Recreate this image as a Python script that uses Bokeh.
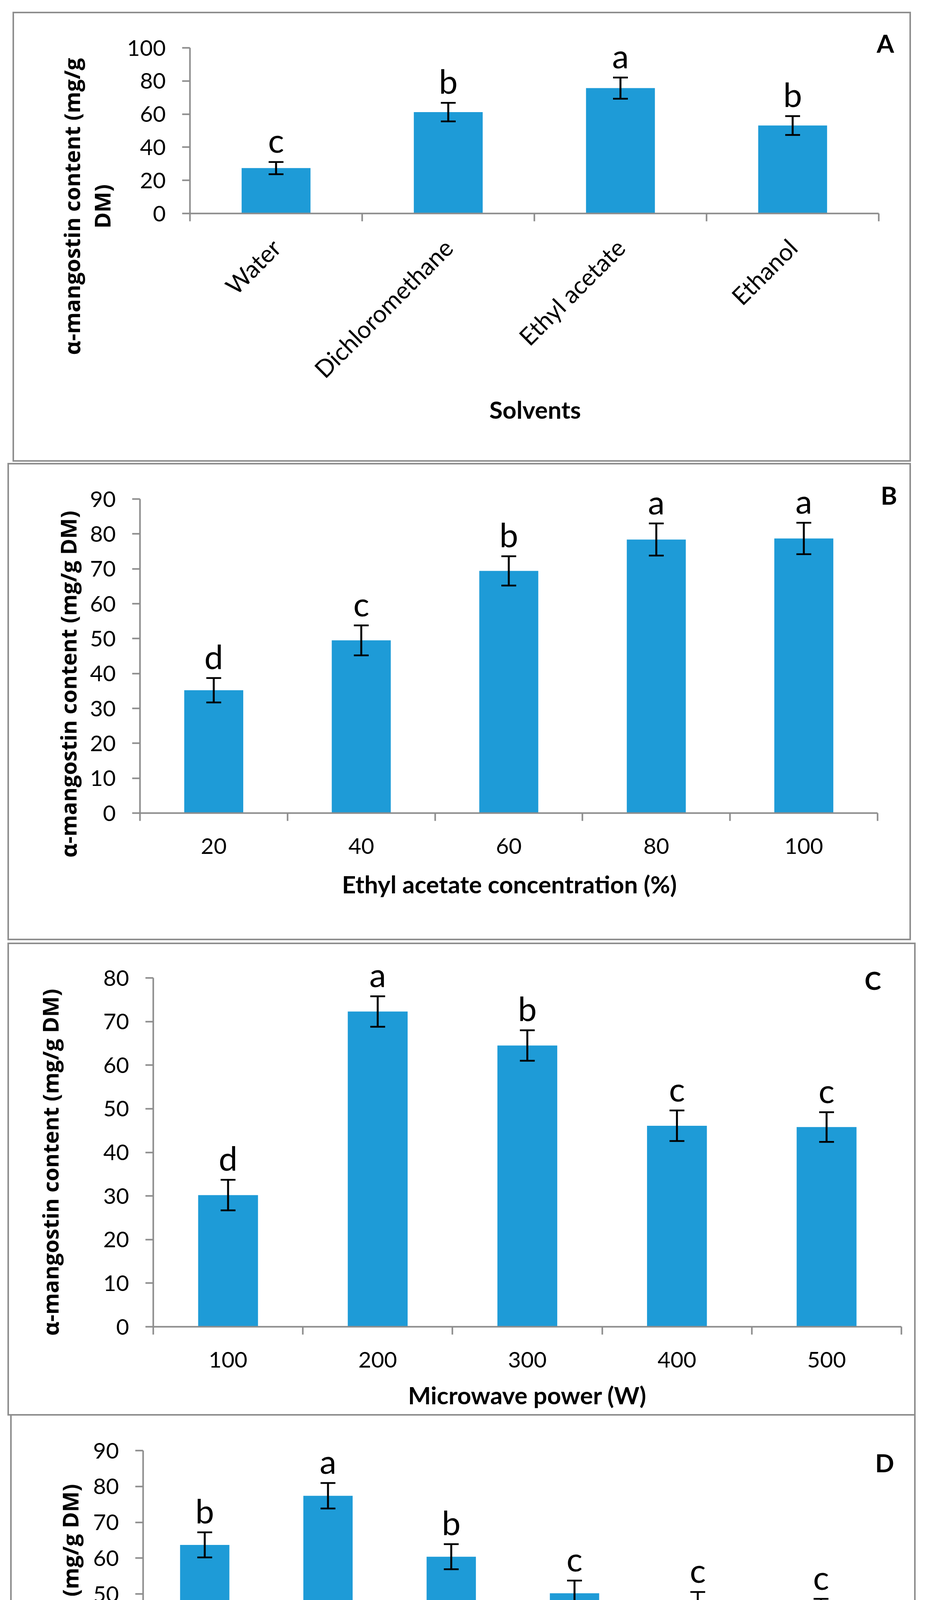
import math
from bokeh.plotting import figure
from bokeh.models import Range1d, FixedTicker, Whisker, TeeHead, ColumnDataSource
from bokeh.core.properties import value
from bokeh.layouts import column
from bokeh.embed import file_html
from bokeh.resources import INLINE

# ---------------- data ----------------
a_cats = ["Water", "Dichloromethane", "Ethyl acetate", "Ethanol"]
a_vals = [27.4, 61.2, 75.7, 53.1]
a_err = [3.7, 5.6, 6.4, 5.7]
a_letters = ["c", "b", "a", "b"]

b_cats = ["20", "40", "60", "80", "100"]
b_vals = [35.2, 49.5, 69.4, 78.4, 78.7]
b_err = [3.5, 4.3, 4.2, 4.6, 4.5]
b_letters = ["d", "c", "b", "a", "a"]

c_cats = ["100", "200", "300", "400", "500"]
c_vals = [30.2, 72.3, 64.5, 46.1, 45.8]
c_err = [3.5, 3.5, 3.5, 3.5, 3.4]
c_letters = ["d", "a", "b", "c", "c"]

d_cats = ["2", "4", "6", "8", "10", "12"]
d_vals = [63.7, 77.4, 60.4, 50.2, 47.0, 45.1]
d_err = [3.5, 3.55, 3.5, 3.55, 3.55, 3.55]
d_letters = ["b", "a", "b", "c", "c", "c"]

a_ymax, a_ystep = 100, 20
b_ymax, b_ystep = 90, 10
c_ymax, c_ystep = 80, 10
d_ymax, d_ystep = 90, 10

a_xtitle = "Solvents"
b_xtitle = "Ethyl acetate concentration (%)"
c_xtitle = "Microwave power (W)"
d_xtitle = "Extraction time (min)"

a_ytitle = ["α-mangostin content (mg/g", "DM)"]
b_ytitle = ["α-mangostin content (mg/g DM)"]
c_ytitle = ["α-mangostin content (mg/g DM)"]
d_ytitle = ["α-mangostin (mg/g DM)"]

# ---------------- styling ----------------
BAR = "#1E9BD7"
AX = "#8c8c8c"
TICK_FONT = "Lato"
TITLE_FONT = "Open Sans"
BW = 4            # css border width
LET_SIZE = 86
TAG_SIZE = 64
XT_SIZE = 62
YT_SIZE = 56
SHIFT = 0.38      # renderer puts the baseline ~0.38em below the requested point


def make_panel(cats, vals, errs, letters, ymax, ystep, box, axes, margin,
               xtitle, xtitle_pos, ytitles, ytitle_bx, ytitle_cy, tag, tag_pos,
               rotate=False):
    L, T, R, B = box
    fl, fr, ft, fb = axes          # page px: y-axis x, x-axis right end, top tick y, x-axis y
    cx0, cy0 = L + BW, T + BW      # canvas origin on page
    W, H = R - L - 2 * BW, B - T - 2 * BW
    n = len(cats)
    ppx = (fr - fl) / n
    ppu = (fb - ft) / ymax

    def dx(px):
        return (px - fl) / ppx

    def dy(py):
        return (fb - py) / ppu

    p = figure(width=W, height=H,
               x_range=Range1d(dx(cx0), dx(cx0 + W)),
               y_range=Range1d(dy(cy0 + H), dy(cy0)),
               output_backend="svg", toolbar_location=None,
               background_fill_color="white", border_fill_color="white")
    p.min_border = 0
    p.min_border_left = 0
    p.min_border_right = 0
    p.min_border_top = 0
    p.min_border_bottom = 0
    p.frame_align = False
    p.outline_line_color = None
    p.xgrid.visible = False
    p.ygrid.visible = False
    p.margin = margin
    p.styles = {"border": "%dpx solid #8e8e8e" % BW}

    xs = [i + 0.5 for i in range(n)]
    upper = [v + e for v, e in zip(vals, errs)]
    lower = [v - e for v, e in zip(vals, errs)]
    lab_y = [u + (24 + SHIFT * LET_SIZE) / ppu for u in upper]
    src = ColumnDataSource(dict(x=xs, top=vals, upper=upper, lower=lower,
                                letter=letters, lab_y=lab_y))

    p.vbar(x="x", top="top", width=0.4, bottom=0, source=src,
           fill_color=BAR, line_color=None)

    wh = Whisker(source=src, base="x", upper="upper", lower="lower",
                 line_color="black", line_width=5,
                 upper_head=TeeHead(size=38, line_color="black", line_width=4.5),
                 lower_head=TeeHead(size=38, line_color="black", line_width=4.5))
    wh.level = "overlay"
    p.add_layout(wh)

    p.text(x="x", y="lab_y", text="letter", source=src, text_align="center",
           text_baseline="alphabetic", text_font=value(TICK_FONT),
           text_font_size="%dpx" % LET_SIZE, text_color="black")

    # panel tag
    p.text(x=[dx(tag_pos[0])], y=[dy(tag_pos[1] - SHIFT * TAG_SIZE)], text=[tag],
           text_align="center", text_baseline="alphabetic", text_font=value(TICK_FONT),
           text_font_style="bold", text_font_size="%dpx" % TAG_SIZE, text_color="black")

    # x title
    p.text(x=[dx(xtitle_pos[0])], y=[dy(xtitle_pos[1] - SHIFT * XT_SIZE)], text=[xtitle],
           text_align="center", text_baseline="alphabetic", text_font=value(TICK_FONT),
           text_font_style="bold", text_font_size="%dpx" % XT_SIZE, text_color="black")

    # y title lines (rotated)
    for txt, bx in zip(ytitles, ytitle_bx):
        p.text(x=[dx(bx - SHIFT * YT_SIZE)], y=[dy(ytitle_cy)], text=[txt], angle=math.pi / 2,
               text_align="center", text_baseline="alphabetic", text_font=value(TITLE_FONT),
               text_font_style="bold", text_font_size="%dpx" % YT_SIZE, text_color="black")

    # axes drawn at the data origin
    xa = p.xaxis[0]
    xa.fixed_location = 0
    xa.bounds = (0, n)
    xa.ticker = FixedTicker(ticks=xs, minor_ticks=list(range(n + 1)))
    xa.major_label_overrides = {x: c for x, c in zip(xs, cats)}
    xa.axis_line_color = AX
    xa.axis_line_width = 4
    xa.major_tick_line_color = None
    xa.major_tick_out = 20
    xa.major_tick_in = 0
    xa.minor_tick_line_color = AX
    xa.minor_tick_line_width = 4
    xa.minor_tick_out = 20
    xa.minor_tick_in = 0
    xa.major_label_text_font = TICK_FONT
    xa.major_label_text_font_size = "62px" if rotate else "57px"
    xa.major_label_text_color = "black"
    xa.major_label_standoff = 56 if rotate else 44
    if rotate:
        xa.major_label_orientation = math.pi / 4

    ya = p.yaxis[0]
    ya.fixed_location = 0
    ya.bounds = (0, ymax)
    ya.ticker = FixedTicker(ticks=list(range(0, ymax + 1, ystep)))
    ya.axis_line_color = AX
    ya.axis_line_width = 4
    ya.major_tick_line_color = AX
    ya.major_tick_line_width = 4
    ya.major_tick_out = 20
    ya.major_tick_in = 0
    ya.minor_tick_line_color = None
    ya.major_label_text_font = TICK_FONT
    ya.major_label_text_font_size = "57px"
    ya.major_label_text_color = "black"
    ya.major_label_standoff = 42
    return p


pA = make_panel(a_cats, a_vals, a_err, a_letters, a_ymax, a_ystep,
                box=(40, 38, 2349, 1198), axes=(494, 2258, 130, 554), margin=(30, 0, 0, 32),
                xtitle=a_xtitle, xtitle_pos=(1378, 1079),
                ytitles=a_ytitle, ytitle_bx=[212, 290], ytitle_cy=536,
                tag="A", tag_pos=(2275, 142), rotate=True)
pB = make_panel(b_cats, b_vals, b_err, b_letters, b_ymax, b_ystep,
                box=(27, 1201, 2349, 2431), axes=(366, 2255, 1293, 2097), margin=(3, 0, 0, 19),
                xtitle=b_xtitle, xtitle_pos=(1312, 2302),
                ytitles=b_ytitle, ytitle_bx=[203], ytitle_cy=1767,
                tag="B", tag_pos=(2284, 1307))
pC = make_panel(c_cats, c_vals, c_err, c_letters, c_ymax, c_ystep,
                box=(27, 2437, 2361, 3656), axes=(400, 2316, 2527, 3420), margin=(6, 0, 0, 19),
                xtitle=c_xtitle, xtitle_pos=(1358, 3618),
                ytitles=c_ytitle, ytitle_bx=[157], ytitle_cy=2999,
                tag="C", tag_pos=(2243, 2557))
pD = make_panel(d_cats, d_vals, d_err, d_letters, d_ymax, d_ystep,
                box=(34, 3656, 2361, 4907), axes=(374, 2268, 3749, 4575), margin=(-4, 0, 0, 26),
                xtitle=d_xtitle, xtitle_pos=(1323, 4784),
                ytitles=d_ytitle, ytitle_bx=[208], ytitle_cy=4162,
                tag="D", tag_pos=(2273, 3804))

layout = column(pA, pB, pC, pD, spacing=0)
open("out.html", "w").write(file_html(layout, INLINE))
